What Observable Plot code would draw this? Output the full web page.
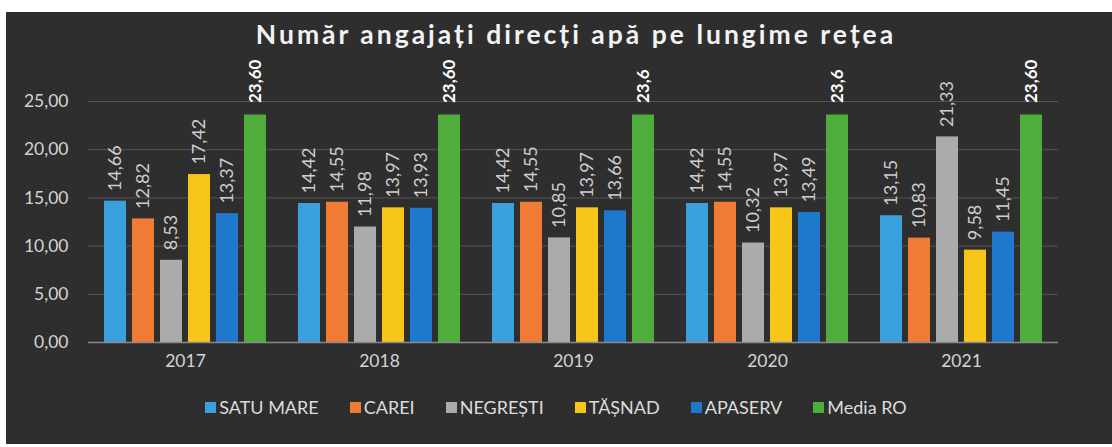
<!DOCTYPE html>
<html>
<head>
<meta charset="utf-8">
<script src="https://cdn.jsdelivr.net/npm/d3@7"></script>
<script src="https://cdn.jsdelivr.net/npm/@observablehq/plot@0.6"></script>
<style>
  html, body { margin: 0; padding: 0; background: #ffffff; width: 1112px; height: 447px; overflow: hidden; }
  #card { position: absolute; left: 6px; top: 12px; width: 1106px; height: 432px; background: #2e2e2e; }
  #title { position: absolute; left: 0; top: 6px; width: 1140px; text-align: center; font-family: Lato, "Open Sans", sans-serif; font-weight: bold; font-size: 26.5px; letter-spacing: 3px; color: #f2f2f2; }
  #chart { position: absolute; left: -6px; top: 40px; }
  #legend { position: absolute; left: 0; top: 384px; width: 1100px; display: flex; justify-content: center; gap: 31px; font-family: Lato, "Open Sans", sans-serif; font-size: 18px; color: #dcdcdc; }
  #legend span.item { display: flex; align-items: center; }
  #legend span.sw { display: inline-block; width: 11px; height: 11px; margin-right: 3px; }
</style>
</head>
<body>
<div id="card">
  <div id="title">Număr angajați direcți apă pe lungime rețea</div>
  <div id="chart"></div>
  <div id="legend"></div>
</div>
<script>
const years = ["2017", "2018", "2019", "2020", "2021"];
const seriesNames = ["SATU MARE", "CAREI", "NEGREȘTI", "TĂȘNAD", "APASERV", "Media RO"];
const satuMare = [14.66, 14.42, 14.42, 14.42, 13.15];
const carei = [12.82, 14.55, 14.55, 14.55, 10.83];
const negresti = [8.53, 11.98, 10.85, 10.32, 21.33];
const tasnad = [17.42, 13.97, 13.97, 13.97, 9.58];
const apaserv = [13.37, 13.93, 13.66, 13.49, 11.45];
const mediaRO = [23.60, 23.60, 23.6, 23.6, 23.60];
const mediaLabels = ["23,60", "23,60", "23,6", "23,6", "23,60"];
const yTicks = [0, 5, 10, 15, 20, 25];
const colors = ["#3aa0dd", "#f07b34", "#ababab", "#f7c61b", "#1e78cb", "#4fae3b"];

const seriesValues = [satuMare, carei, negresti, tasnad, apaserv, mediaRO];
const data = [];
years.forEach((yr, i) => {
  seriesNames.forEach((s, j) => {
    const v = seriesValues[j][i];
    const label = s === "Media RO" ? mediaLabels[i] : v.toFixed(2).replace(".", ",");
    data.push({year: yr, series: s, value: v, label, media: s === "Media RO"});
  });
});

const fmt = d => d.toFixed(2).replace(".", ",");

const chart = Plot.plot({
  width: 1112,
  height: 330,
  marginLeft: 88,
  marginRight: 54,
  marginTop: 49,
  marginBottom: 40,
  style: {background: "transparent", color: "#d4d4d4", fontFamily: "Lato, 'Open Sans', sans-serif", fontSize: "17.5px"},
  fx: {domain: years, padding: 0, label: null, axis: "bottom", tickSize: 0, tickPadding: 12},
  x: {domain: seriesNames, paddingInner: 0.21, paddingOuter: 0.5, axis: null},
  y: {domain: [0, 25], ticks: yTicks, tickFormat: fmt, label: null, tickSize: 0, tickPadding: 20},
  color: {domain: seriesNames, range: colors},
  marks: [
    Plot.gridY(yTicks.filter(d => d > 0), {stroke: "#555", strokeOpacity: 1, strokeWidth: 1}),
    Plot.barY(data, {fx: "year", x: "series", y: "value", fill: "series"}),
    Plot.ruleY([0], {stroke: "#8a8a8a", strokeWidth: 1.5}),
    Plot.text(data.filter(d => !d.media), {fx: "year", x: "series", y: "value", text: "label", rotate: -90, textAnchor: "start", lineAnchor: "middle", dy: -10, fill: "#cfcfcf", fontSize: 18}),
    Plot.text(data.filter(d => d.media), {fx: "year", x: "series", y: "value", text: "label", rotate: -90, textAnchor: "start", lineAnchor: "middle", dy: -12, fill: "#ffffff", fontSize: 17, fontWeight: "bold"})
  ]
});
document.getElementById("chart").appendChild(chart);

const legend = document.getElementById("legend");
seriesNames.forEach((s, i) => {
  const item = document.createElement("span");
  item.className = "item";
  const sw = document.createElement("span");
  sw.className = "sw";
  sw.style.background = colors[i];
  item.appendChild(sw);
  item.appendChild(document.createTextNode(s));
  legend.appendChild(item);
});
</script>
</body>
</html>
